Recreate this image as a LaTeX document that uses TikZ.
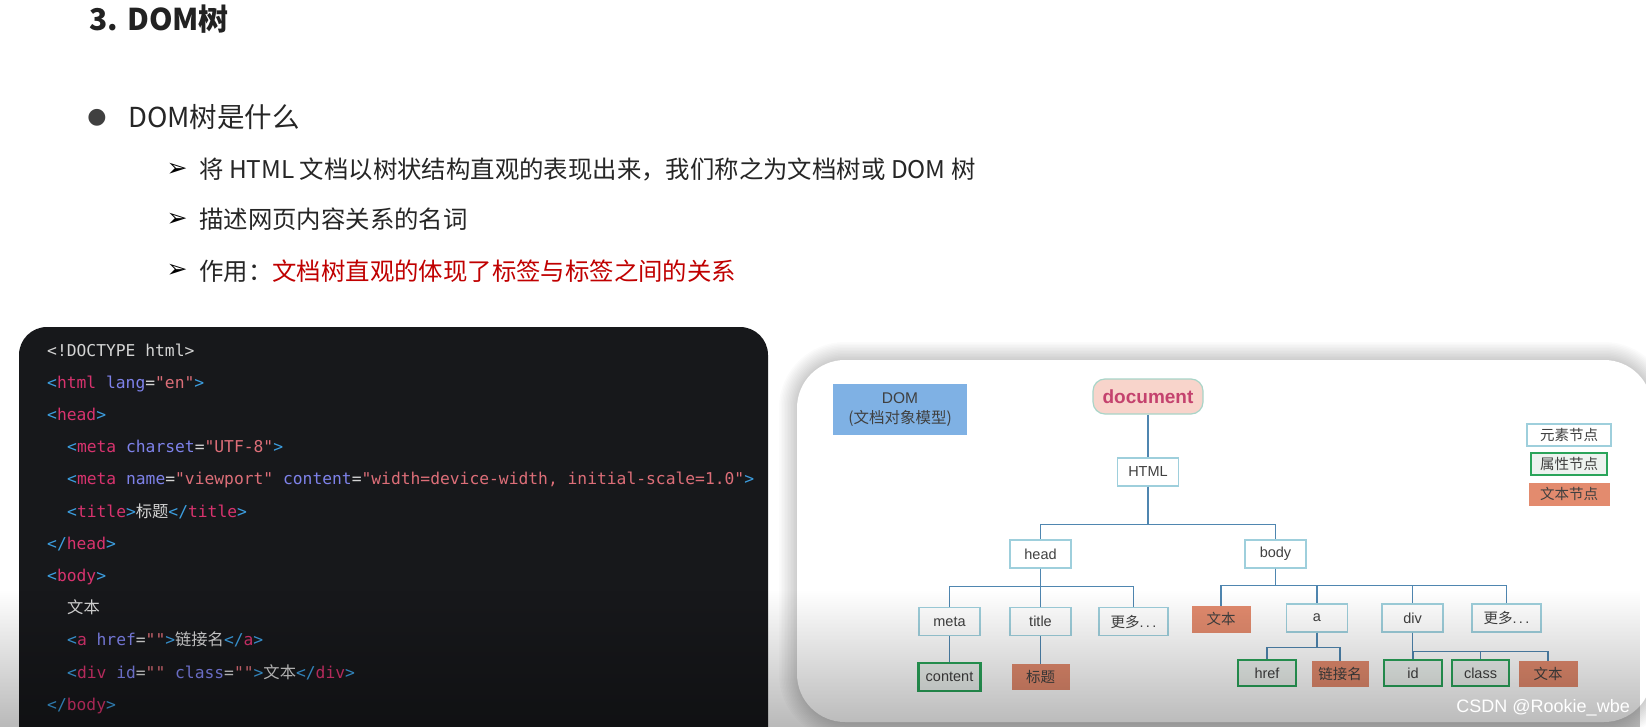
\documentclass[tikz,border=0pt]{standalone}
\usepackage{fontspec}
\setmainfont{Noto Sans CJK SC}
\setmonofont{DejaVu Sans Mono}
\newfontfamily\cjk{Noto Sans CJK SC}
\newfontfamily\arial{Liberation Sans}
\newfontfamily\symfont{DejaVu Sans}
\usetikzlibrary{fadings}

\definecolor{titlec}{HTML}{222222}
\definecolor{bodytxt}{HTML}{262626}
\definecolor{bulletc}{HTML}{404040}
\definecolor{redtxt}{HTML}{C00000}
\definecolor{codebg}{HTML}{17181B}
\definecolor{codetxt}{HTML}{D4D4D4}
\definecolor{codepun}{HTML}{3C9EE0}
\definecolor{codetag}{HTML}{D8336E}
\definecolor{codeatt}{HTML}{7E82EA}
\definecolor{codestr}{HTML}{DD6E78}
\definecolor{linec}{HTML}{4F86B0}
\definecolor{elemc}{HTML}{9ECFDC}
\definecolor{attrc}{HTML}{2AA45A}
\definecolor{attrfill}{HTML}{EDF2EF}
\definecolor{textfill}{HTML}{E38B6E}
\definecolor{docfill}{HTML}{F8D4CB}
\definecolor{docline}{HTML}{A8D5C8}
\definecolor{doctxt}{HTML}{C4426E}
\definecolor{domfill}{HTML}{7FB1E4}
\definecolor{nodetxt}{HTML}{404040}

\newcommand\cPun[1]{\textcolor{codepun}{#1}}
\newcommand\cTag[1]{\textcolor{codetag}{#1}}
\newcommand\cAtt[1]{\textcolor{codeatt}{#1}}
\newcommand\cStr[1]{\textcolor{codestr}{#1}}
\newcommand\zh[1]{{\cjk #1}}

\begin{document}
\begin{tikzpicture}[x=1pt, y=-1pt]
        \useasboundingbox (0,0) rectangle (1646,727);
        \clip (0,0) rectangle (1646,727);
        \fill[white] (0,0) rectangle (1646,727);

        \node[anchor=base west, inner sep=0, text=titlec, font=\bfseries\fontsize{30}{36}\selectfont] (title) at (89,31) {3. DOM树};
        \node[inner sep=0, text=bulletc, font=\symfont\fontsize{22}{22}\selectfont] (dot) at (97,118) {●};
        \node[anchor=base west, inner sep=0, text=bodytxt, font=\fontsize{27.5}{32}\selectfont] (q) at (128,128) {DOM树是什么};
        \begin{scope}[every node/.style={inner sep=0, text=black, font=\symfont\bfseries\fontsize{25}{25}\selectfont}]
            \node (a1) at (177,170) {➢};
            \node (a2) at (177,220) {➢};
            \node (a3) at (177,271) {➢};
        \end{scope}
        \begin{scope}[every node/.style={anchor=base west, inner sep=0, text=bodytxt, font=\fontsize{24.4}{28}\selectfont}]
            \node (l1) at (199,179) {将 HTML 文档以树状结构直观的表现出来，我们称之为文档树或 DOM 树};
            \node (l2) at (199,229) {描述网页内容关系的名词};
            \node (l3) at (199,280) {作用：\textcolor{redtxt}{文档树直观的体现了标签与标签之间的关系}};
        \end{scope}

        \fill[codebg, rounded corners=28] (19,327) rectangle (768,790);
        \begin{scope}[every node/.style={anchor=base west, inner sep=0, text=codetxt, font=\ttfamily\fontsize{16.3}{18}\selectfont}]
            \node (c0) at (47,356) {<!DOCTYPE html>};
            \node (c1) at (47,388.2) {\cPun{<}\cTag{html} \cAtt{lang}=\cStr{"en"}\cPun{>}};
            \node (c2) at (47,420.4) {\cPun{<}\cTag{head}\cPun{>}};
            \node (c3) at (67,452.6) {\cPun{<}\cTag{meta} \cAtt{charset}=\cStr{"UTF-8"}\cPun{>}};
            \node (c4) at (67,484.8) {\cPun{<}\cTag{meta} \cAtt{name}=\cStr{"viewport"} \cAtt{content}=\cStr{"width=device-width, initial-scale=1.0"}\cPun{>}};
            \node (c5) at (67,517) {\cPun{<}\cTag{title}\cPun{>}\zh{标题}\cPun{</}\cTag{title}\cPun{>}};
            \node (c6) at (47,549.2) {\cPun{</}\cTag{head}\cPun{>}};
            \node (c7) at (47,581.4) {\cPun{<}\cTag{body}\cPun{>}};
            \node (c8) at (67,613.6) {\zh{文本}};
            \node (c9) at (67,645.8) {\cPun{<}\cTag{a} \cAtt{href}=\cStr{""}\cPun{>}\zh{链接名}\cPun{</}\cTag{a}\cPun{>}};
            \node (c10) at (67,678) {\cPun{<}\cTag{div} \cAtt{id}=\cStr{""} \cAtt{class}=\cStr{""}\cPun{>}\zh{文本}\cPun{</}\cTag{div}\cPun{>}};
            \node (c11) at (47,710.2) {\cPun{</}\cTag{body}\cPun{>}};
        \end{scope}

        \foreach \w in {3,6,...,36}
            \draw[black, opacity=0.015, line width=\w, rounded corners=48] (797,360) rectangle (1652,722);
        \fill[white, rounded corners=48] (797,360) rectangle (1652,722);

        \begin{scope}[every node/.style={draw=elemc, line width=1.2pt, fill=white, inner sep=0, minimum width=61, minimum height=28, text=nodetxt, font=\arial\fontsize{14.5}{16}\selectfont},
                      attrnode/.style={draw=attrc, line width=2.4pt, fill=attrfill},
                      textnode/.style={draw=textfill, fill=textfill, line width=0.8pt}]
            \node[draw=docline, fill=docfill, rounded corners=12, minimum width=110, minimum height=35, text=doctxt, font=\arial\bfseries\fontsize{19}{20}\selectfont] (1) at (1148,396.5) {document};
            \node (2) at (1148,472) {HTML};
            \node (3) at (1040.5,554) {head};
            \node (4) at (1275.5,554) {body};

            \node (5) at (949.5,621.5) {meta};
            \node (6) at (1040.5,621.5) {title};
            \node[minimum width=69] (7) at (1133.5,621.5) {\zh{更多}.\,.\,.};
            \node[attrnode, minimum width=62] (8) at (949.5,677) {content};
            \node[textnode, minimum width=57, minimum height=25] (9) at (1040.5,676.5) {\zh{标题}};

            \node[textnode, minimum width=58, minimum height=26] (10) at (1221,619) {\zh{文本}};
            \node (11) at (1317,618) {a};
            \node (12) at (1412.5,618) {div};
            \node[minimum width=69] (13) at (1506.5,618) {\zh{更多}.\,.\,.};
            \node[attrnode, minimum width=58, minimum height=26] (14) at (1267,673) {href};
            \node[textnode, minimum width=56, minimum height=25] (15) at (1340,673.5) {\zh{链接名}};
            \node[attrnode, minimum width=58, minimum height=26] (16) at (1413,673) {id};
            \node[attrnode, minimum width=57, minimum height=26] (17) at (1480.5,673) {class};
            \node[textnode, minimum width=58, minimum height=25] (18) at (1548,673.5) {\zh{文本}};

            \node[minimum width=84, minimum height=22] (19) at (1569,435) {\zh{元素节点}};
            \node[attrnode, minimum width=76, minimum height=22] (20) at (1569,464) {\zh{属性节点}};
            \node[textnode, minimum width=80, minimum height=22] (21) at (1569,494) {\zh{文本节点}};

            \node[draw=none, fill=domfill, minimum width=134, minimum height=51, align=center, font=\cjk\fontsize{15.5}{20}\selectfont] (22) at (900,409.5) {{\arial DOM}\\(文档对象模型)};
        \end{scope}
        \begin{scope}[every edge/.style={draw=linec, line width=1.4pt},
                      elbow/.style={to path={(\tikztostart.south) -- ++(0,#1) -| (\tikztotarget.north)}}]
            \path (1) edge[elbow=20] (2);
            \path (2) edge[elbow=38] (3);
            \path (2) edge[elbow=38] (4);

            \path (3) edge[elbow=18] (5);
            \path (3) edge[elbow=18] (6);
            \path (3) edge[elbow=18] (7);
            \path (5) edge[elbow=10] (8);
            \path (6) edge[elbow=10] (9);

            \path (4) edge[elbow=17] (10);
            \path (4) edge[elbow=17] (11);
            \path (4) edge[elbow=17] (12);
            \path (4) edge[elbow=17] (13);
            \path (11) edge[elbow=15] (14);
            \path (11) edge[elbow=15] (15);
            \path (12) edge[elbow=19] (16);
            \path (12) edge[elbow=19] (17);
            \path (12) edge[elbow=19] (18);
        \end{scope}

        \fill[black, opacity=0.4, path fading=north] (0,590) rectangle (1646,790);
        \node[anchor=east, inner sep=0, text=white, font=\arial\fontsize{18}{20}\selectfont] (mark) at (1630,708) {CSDN @Rookie\_wbe};
\end{tikzpicture}
\end{document}
